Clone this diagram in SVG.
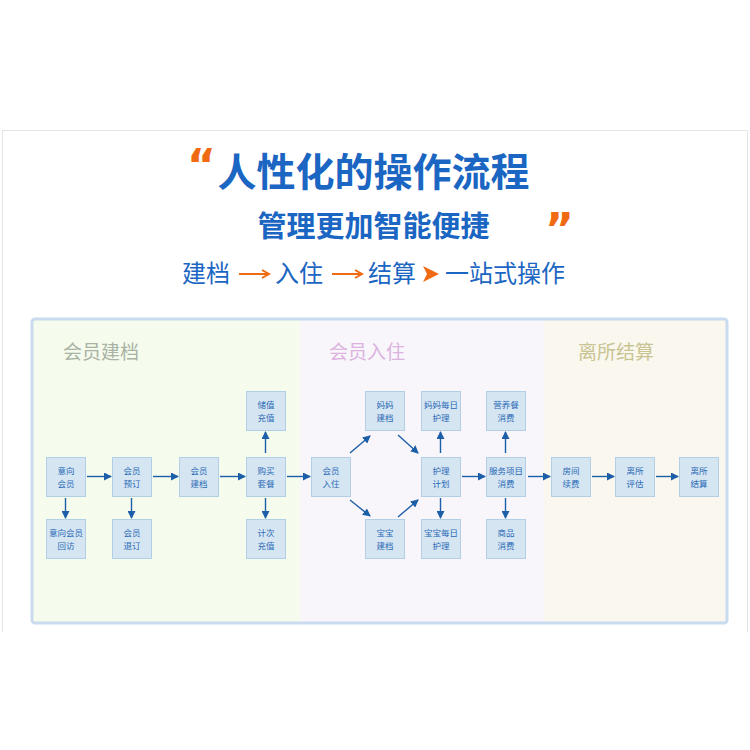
<svg xmlns="http://www.w3.org/2000/svg" width="750" height="750" viewBox="0 0 750 750">
<defs>
<style>
.box{fill:#d5e5f2;stroke:#b3cfe6;stroke-width:1}
.bt{font-family:"Noto Sans CJK SC","Noto Sans",sans-serif;font-size:8.5px;fill:#2a6ab6;text-anchor:middle}
.cn{stroke:#1d5ea8;stroke-width:1.4;fill:none;marker-end:url(#ah)}
.sec{font-family:"Noto Sans CJK SC",sans-serif;font-size:19px}
.t3{font-family:"Noto Sans CJK SC",sans-serif;font-size:24px;fill:#1a66c2}
.oa{stroke:#f06a14;stroke-width:2;fill:none}
.q{font-family:"DejaVu Sans",sans-serif;font-weight:bold;font-size:44px;fill:#f06a14}
</style>
<marker id="ah" markerUnits="userSpaceOnUse" markerWidth="8" markerHeight="8" refX="7" refY="4" orient="auto">
<path d="M0,0 L8,4 L0,8 z" fill="#1d5ea8"/>
</marker>
</defs>
<rect width="750" height="750" fill="#ffffff"/>
<path d="M2.5,632 V130.5 H747.5 V632" fill="none" stroke="#e4e4e4" stroke-width="1"/>

<g id="title">
<text class="q" x="187" y="181">“</text>
<text x="373.5" y="186" text-anchor="middle" font-family="'Noto Sans CJK SC',sans-serif" font-weight="bold" font-size="39" fill="#1a66c2">人性化的操作流程</text>
<text x="373.5" y="237" text-anchor="middle" font-family="'Noto Sans CJK SC',sans-serif" font-weight="bold" font-size="29" fill="#1a66c2">管理更加智能便捷</text>
<text class="q" x="545" y="245">”</text>
<text class="t3" x="182" y="282">建档</text>
<path class="oa" d="M239,274 H268 M262,270 L269,274 L262,278"/>
<text class="t3" x="275" y="282">入住</text>
<path class="oa" d="M332,274 H361 M355,270 L362,274 L355,278"/>
<text class="t3" x="368" y="282">结算</text>
<path d="M423,266 L439,274 L423,282 L427,274 z" fill="#f06a14"/>
<text class="t3" x="445" y="282">一站式操作</text>
</g>

<g id="panel">
<rect x="33" y="320" width="267" height="302" fill="#f5fcee"/>
<rect x="300" y="320" width="244" height="302" fill="#f8f6fa"/>
<rect x="544" y="320" width="182" height="302" fill="#faf7ee"/>
<rect x="32" y="319" width="695" height="304" rx="3" fill="none" stroke="#c9dbee" stroke-width="3"/>
<text class="sec" x="63" y="359" fill="#a9b2a4">会员建档</text>
<text class="sec" x="329" y="359" fill="#dcb2df">会员入住</text>
<text class="sec" x="578" y="359" fill="#c9c493">离所结算</text>
</g>

<g id="connectors">
<path class="cn" d="M87,476.5 H111"/>
<path class="cn" d="M153,476.5 H178"/>
<path class="cn" d="M220,476.5 H245"/>
<path class="cn" d="M287,476.5 H310"/>
<path class="cn" d="M462,476.5 H485"/>
<path class="cn" d="M528,476.5 H550"/>
<path class="cn" d="M592,476.5 H614"/>
<path class="cn" d="M656,476.5 H678"/>
<path class="cn" d="M65.5,498 V518"/>
<path class="cn" d="M131.5,498 V518"/>
<path class="cn" d="M265.5,498 V518"/>
<path class="cn" d="M265.5,453 V432"/>
<path class="cn" d="M440.5,453 V432"/>
<path class="cn" d="M440.5,498 V518"/>
<path class="cn" d="M505.5,453 V432"/>
<path class="cn" d="M505.5,498 V518"/>
<path class="cn" d="M350,453 L370,436"/>
<path class="cn" d="M398,435 L418,453"/>
<path class="cn" d="M350,500 L370,516"/>
<path class="cn" d="M398,517 L418,500"/>
</g>

<g id="n1"><rect class="box" x="46.5" y="457.5" width="39" height="39"/><text class="bt" x="66" y="474">意向</text><text class="bt" x="66" y="487">会员</text></g>
<g id="n2"><rect class="box" x="46.5" y="519.5" width="39" height="39"/><text class="bt" x="66" y="536">意向会员</text><text class="bt" x="66" y="549">回访</text></g>
<g id="n3"><rect class="box" x="112.5" y="457.5" width="39" height="39"/><text class="bt" x="132" y="474">会员</text><text class="bt" x="132" y="487">预订</text></g>
<g id="n4"><rect class="box" x="112.5" y="519.5" width="39" height="39"/><text class="bt" x="132" y="536">会员</text><text class="bt" x="132" y="549">退订</text></g>
<g id="n5"><rect class="box" x="179.5" y="457.5" width="39" height="39"/><text class="bt" x="199" y="474">会员</text><text class="bt" x="199" y="487">建档</text></g>
<g id="n6"><rect class="box" x="246.5" y="457.5" width="39" height="39"/><text class="bt" x="266" y="474">购买</text><text class="bt" x="266" y="487">套餐</text></g>
<g id="n7"><rect class="box" x="246.5" y="391.5" width="39" height="39"/><text class="bt" x="266" y="408">储值</text><text class="bt" x="266" y="421">充值</text></g>
<g id="n8"><rect class="box" x="246.5" y="519.5" width="39" height="39"/><text class="bt" x="266" y="536">计次</text><text class="bt" x="266" y="549">充值</text></g>
<g id="n9"><rect class="box" x="311.5" y="457.5" width="39" height="39"/><text class="bt" x="331" y="474">会员</text><text class="bt" x="331" y="487">入住</text></g>
<g id="n10"><rect class="box" x="365.5" y="391.5" width="39" height="39"/><text class="bt" x="385" y="408">妈妈</text><text class="bt" x="385" y="421">建档</text></g>
<g id="n11"><rect class="box" x="365.5" y="519.5" width="39" height="39"/><text class="bt" x="385" y="536">宝宝</text><text class="bt" x="385" y="549">建档</text></g>
<g id="n12"><rect class="box" x="421.5" y="457.5" width="39" height="39"/><text class="bt" x="441" y="474">护理</text><text class="bt" x="441" y="487">计划</text></g>
<g id="n13"><rect class="box" x="421.5" y="391.5" width="39" height="39"/><text class="bt" x="441" y="408">妈妈每日</text><text class="bt" x="441" y="421">护理</text></g>
<g id="n14"><rect class="box" x="421.5" y="519.5" width="39" height="39"/><text class="bt" x="441" y="536">宝宝每日</text><text class="bt" x="441" y="549">护理</text></g>
<g id="n15"><rect class="box" x="486.5" y="457.5" width="39" height="39"/><text class="bt" x="506" y="474">服务项目</text><text class="bt" x="506" y="487">消费</text></g>
<g id="n16"><rect class="box" x="486.5" y="391.5" width="39" height="39"/><text class="bt" x="506" y="408">营养餐</text><text class="bt" x="506" y="421">消费</text></g>
<g id="n17"><rect class="box" x="486.5" y="519.5" width="39" height="39"/><text class="bt" x="506" y="536">商品</text><text class="bt" x="506" y="549">消费</text></g>
<g id="n18"><rect class="box" x="551.5" y="457.5" width="39" height="39"/><text class="bt" x="571" y="474">房间</text><text class="bt" x="571" y="487">续费</text></g>
<g id="n19"><rect class="box" x="615.5" y="457.5" width="39" height="39"/><text class="bt" x="635" y="474">离所</text><text class="bt" x="635" y="487">评估</text></g>
<g id="n20"><rect class="box" x="679.5" y="457.5" width="39" height="39"/><text class="bt" x="699" y="474">离所</text><text class="bt" x="699" y="487">结算</text></g>
</svg>
